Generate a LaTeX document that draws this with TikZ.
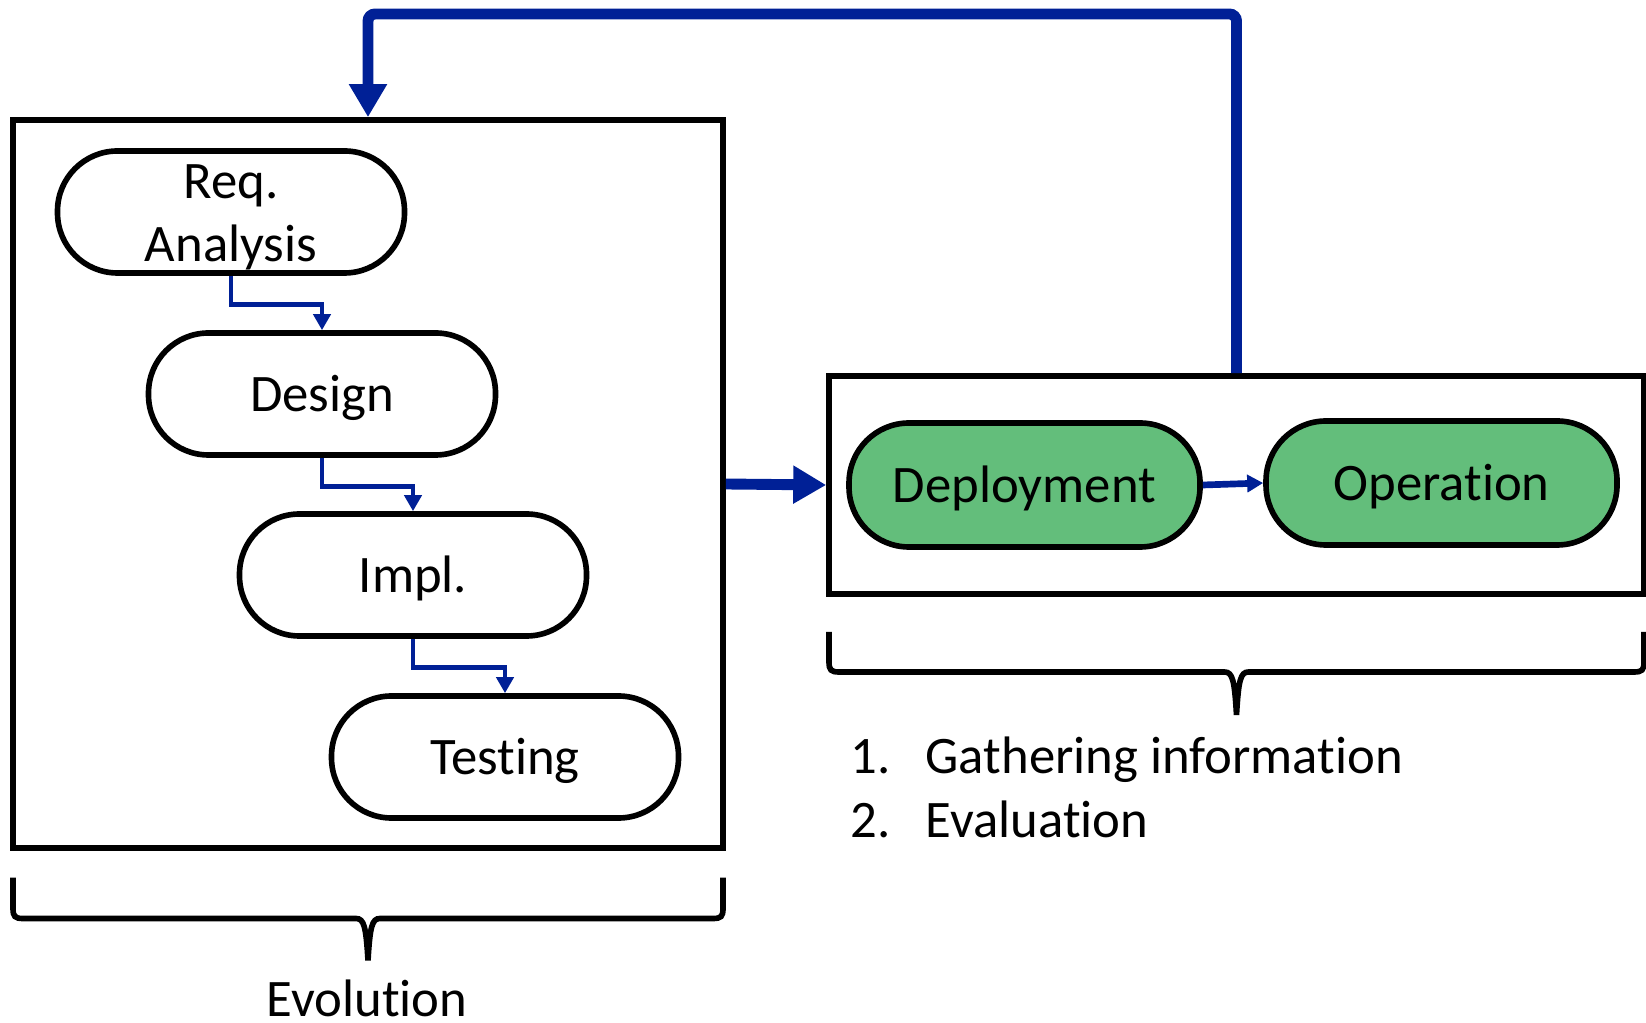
\documentclass[tikz,border=0pt]{standalone}
\usepackage{fontspec}
\setmainfont{Carlito}[Ligatures=NoCommon]
\usetikzlibrary{arrows.meta}
\definecolor{flowblue}{RGB}{0,32,150}
\definecolor{stagegreen}{RGB}{99,190,123}
% brace under a frame: left x, right x, top y, line y, tip y
\newcommand{\UnderBrace}[5]{%
  \pgfmathsetmacro\bmid{(#1+#2)/2}
  \draw[brace] (#1,#3) -- (#1,#4+0.1) .. controls (#1,#4+0.02) and (#1+0.02,#4) .. (#1+0.1,#4)
    -- (\bmid-0.12,#4) .. controls (\bmid-0.04,#4) and (\bmid-0.02,#4-0.08) .. (\bmid,#5)
    .. controls (\bmid+0.02,#4-0.08) and (\bmid+0.04,#4) .. (\bmid+0.12,#4)
    -- (#2-0.1,#4) .. controls (#2-0.02,#4) and (#2,#4+0.02) .. (#2,#4+0.1) -- (#2,#3);}

\begin{document}
\begin{tikzpicture}[font=\fontsize{15}{18}\selectfont,
  stage/.style={draw,line width=1.6pt,rounded corners=0.6cm,minimum width=3.47cm,minimum height=1.22cm,inner sep=0pt,align=center},
  oneline/.style={text height=9.7pt,text depth=0pt},
  frame/.style={draw,line width=1.6pt,inner sep=0pt},
  flow/.style={draw=flowblue,line width=1.4pt,-{Triangle[length=0.16cm,width=0.17cm]}},
  bigflow/.style={draw=flowblue,line width=3.1pt,-{Triangle[length=0.33cm,width=0.36cm]}},
  brace/.style={line width=1.6pt}]
\useasboundingbox (0,0) rectangle (16.46,-10.23);
% frames
\node[frame,minimum width=7.10cm,minimum height=7.28cm] (evo) at (3.68,-4.84) {};
\node[frame,minimum width=8.15cm,minimum height=2.18cm] (ops) at (12.365,-4.85) {};
% development stages
\node[stage] (req) at (2.31,-2.12) {\rule{0pt}{0.44cm}Req.\\Analysis};
\node[stage,oneline] (design) at (3.22,-3.94) {Design};
\node[stage,oneline] (impl) at (4.13,-5.75) {Impl.};
\node[stage,oneline] (testing) at (5.05,-7.57) {Testing};
\node[stage,oneline,fill=stagegreen,minimum width=3.51cm,minimum height=1.24cm] (deploy) at (10.245,-4.85) {Deployment};
\node[stage,oneline,fill=stagegreen,minimum width=3.51cm,minimum height=1.24cm] (oper) at (14.415,-4.83) {Operation};
\draw[flow] (req.south) -- ++(0,-0.29) -| (design.north);
\draw[flow] (design.south) -- ++(0,-0.29) -| (impl.north);
\draw[flow] (impl.south) -- ++(0,-0.29) -| (testing.north);
\draw[flow,line width=1.9pt] (deploy.east) -- (oper.west);
\draw[bigflow] (evo.east) -- (ops.west);
\coordinate (fbtop) at (8,-0.14);
\draw[bigflow,rounded corners=2pt] (ops.north) |- (fbtop) -| (evo.north);
% braces and labels
\UnderBrace{0.13}{7.23}{-8.776}{-9.185}{-9.605}
\UnderBrace{8.29}{16.44}{-6.32}{-6.72}{-7.15}
\node[anchor=base,inner sep=0pt] (evolabel) at (3.67,-10.16) {Evolution};
\node[anchor=base west,inner sep=0pt] (step1) at (8.50,-7.73) {\makebox[0.75cm][l]{1.}Gathering information};
\node[anchor=base west,inner sep=0pt] (step2) at (8.50,-8.37) {\makebox[0.75cm][l]{2.}Evaluation};
\end{tikzpicture}
\end{document}
